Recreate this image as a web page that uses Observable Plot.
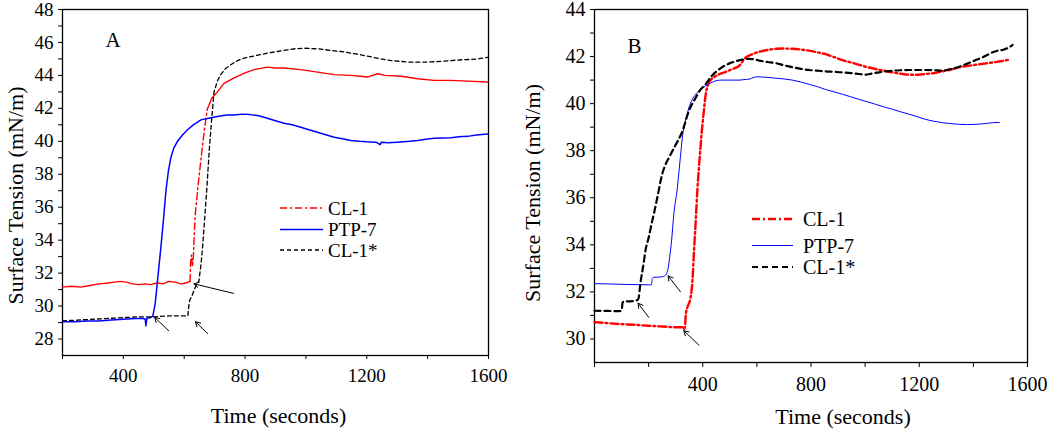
<!DOCTYPE html>
<html><head><meta charset="utf-8">
<script src="https://cdn.jsdelivr.net/npm/d3@7"></script>
<script src="https://cdn.jsdelivr.net/npm/@observablehq/plot@0.6"></script>
<style>
body{margin:0;background:#fff;}
#wrap{display:flex;width:1050px;height:430px;}
</style></head><body><div id="wrap"></div>
<script>
// ---------- Panel A data ----------
const timeA_CL1 = [200,230,260,290,320,350,370,390,410,430,450,470,490,510,530,550,570,590,605,619,621,624,627,630,633,636,646,658,667,676,690,709,730,764,800,830,873,900,928,983,1038,1093,1148,1180,1202,1235,1260,1314,1367,1421,1476,1531,1597];
const tensA_CL1 = [31.15,31.2,31.15,31.25,31.35,31.4,31.45,31.5,31.45,31.35,31.3,31.35,31.3,31.4,31.35,31.5,31.45,31.35,31.4,31.5,32.6,33.1,32.4,33.0,34.3,35.5,37.4,39.4,40.8,41.95,42.6,43.0,43.5,43.85,44.15,44.35,44.5,44.45,44.45,44.35,44.2,44.05,44.0,43.95,43.9,44.1,44.0,43.95,43.8,43.7,43.7,43.65,43.6];

const timeA_PTP7 = [200,240,280,320,360,400,440,465,472,474,477,490,497,505,512,518,524,532,540,548,556,566,578,595,611,630,655,680,709,740,764,790,818,845,873,900,928,955,983,1010,1038,1065,1093,1120,1148,1175,1200,1230,1244,1248,1270,1300,1340,1367,1394,1421,1448,1476,1503,1531,1560,1597];
const tensA_PTP7 = [29.05,29.05,29.1,29.1,29.15,29.2,29.25,29.25,29.2,28.8,29.25,29.3,29.4,30.2,31.5,32.6,33.7,35.3,37.0,38.2,39.0,39.6,40.0,40.4,40.7,41.0,41.3,41.4,41.5,41.6,41.6,41.65,41.62,41.55,41.4,41.25,41.1,41.0,40.85,40.7,40.55,40.4,40.25,40.15,40.05,40.0,39.97,39.95,39.8,39.95,39.92,39.95,40.0,40.05,40.12,40.18,40.2,40.22,40.27,40.3,40.38,40.45];

const timeA_CL1s = [200,250,300,350,400,450,500,550,590,612,615,618,625,632,640,648,655,660,668,675,682,690,698,710,720,735,753,775,797,835,874,905,939,965,994,1020,1049,1080,1115,1150,1181,1215,1247,1280,1312,1345,1378,1411,1444,1477,1510,1540,1563,1597];
const tensA_CL1s = [29.1,29.15,29.2,29.25,29.3,29.35,29.35,29.4,29.4,29.4,30.0,30.35,30.6,30.95,31.3,31.5,32.5,33.5,35.5,37.3,39.4,41.3,43.0,43.7,44.05,44.4,44.65,44.9,45.05,45.2,45.35,45.45,45.55,45.62,45.65,45.63,45.6,45.52,45.45,45.35,45.25,45.12,45.0,44.9,44.85,44.8,44.8,44.82,44.85,44.9,44.95,44.97,45.0,45.1];

// arrows in panel A (time, tension): tail -> tip
const arrowA_tailT = [549, 677, 762];
const arrowA_tailV = [28.5, 28.33, 30.77];
const arrowA_tipT  = [503, 637, 632];
const arrowA_tipV  = [29.31, 29.05, 31.35];

// ---------- Panel B data ----------
const timeB_CL1 = [0,50,100,150,200,250,300,325,330,334,338,345,355,362,368,374,380,386,392,398,405,411,420,429,445,460,485,509,534,558,583,608,640,670,700,731,762,793,824,854,885,916,947,978,1008,1039,1070,1101,1132,1163,1194,1224,1255,1286,1317,1348,1378,1409,1440,1471,1502,1533];
const tensB_CL1 = [30.72,30.67,30.63,30.6,30.56,30.53,30.5,30.5,30.42,30.5,31.1,31.4,31.75,32.5,33.8,35.0,36.3,37.3,38.2,39.0,39.8,40.4,40.8,41.0,41.15,41.25,41.35,41.47,41.6,41.95,42.1,42.2,42.28,42.33,42.34,42.33,42.3,42.25,42.18,42.1,41.98,41.85,41.75,41.65,41.55,41.47,41.4,41.33,41.27,41.23,41.23,41.26,41.3,41.37,41.45,41.54,41.6,41.65,41.7,41.75,41.8,41.87];

const timeB_PTP7 = [0,50,100,150,200,210,214,220,240,255,265,272,278,285,293,306,312,318,324,330,340,349,360,374,392,411,430,448,467,485,510,534,552,571,590,600,620,645,670,700,731,762,793,824,854,885,916,947,978,1008,1039,1070,1101,1132,1163,1194,1224,1255,1286,1317,1348,1378,1409,1440,1471,1496];
const tensB_PTP7 = [32.35,32.34,32.32,32.31,32.3,32.3,32.58,32.62,32.63,32.66,32.75,33.0,33.5,34.2,35.3,36.4,37.1,37.8,38.5,38.98,39.45,39.83,40.15,40.4,40.6,40.75,40.88,40.97,41.0,41.0,41.0,41.0,41.02,41.04,41.12,41.14,41.13,41.11,41.08,41.05,41.0,40.92,40.82,40.72,40.6,40.5,40.4,40.29,40.18,40.08,39.97,39.86,39.76,39.65,39.55,39.44,39.33,39.25,39.19,39.15,39.12,39.11,39.12,39.15,39.19,39.2];

const timeB_CL1s = [0,50,90,100,104,110,130,150,162,170,180,189,200,213,219,232,250,262,275,300,324,349,374,392,411,435,460,472,497,522,546,571,590,608,640,670,700,731,762,793,824,854,885,916,947,978,1002,1025,1052,1077,1101,1132,1163,1194,1224,1255,1286,1317,1348,1378,1409,1440,1471,1490,1508,1525,1545];
const tensB_CL1s = [31.2,31.19,31.18,31.2,31.55,31.6,31.6,31.62,31.7,32.4,33.1,33.8,34.3,35.0,35.3,36.0,37.0,37.4,37.7,38.25,38.8,39.7,40.25,40.6,40.83,41.2,41.45,41.55,41.7,41.8,41.87,41.9,41.88,41.83,41.77,41.72,41.63,41.55,41.48,41.43,41.4,41.37,41.35,41.33,41.3,41.26,41.23,41.28,41.33,41.37,41.4,41.42,41.43,41.43,41.43,41.42,41.4,41.47,41.57,41.7,41.85,42.0,42.18,42.25,42.28,42.35,42.5];

const arrowB_tailT = [318, 201, 386];
const arrowB_tailV = [32.0, 30.91, 29.74];
const arrowB_tipT  = [272, 161, 330];
const arrowB_tipV  = [32.68, 31.52, 30.35];

const seriesNames = ["CL-1", "PTP-7", "CL-1*"];
const xTickLabels = [400, 800, 1200, 1600];
const yLabel = "Surface Tension (mN/m)";
const xLabel = "Time (seconds)";

// ---------- helpers ----------
const pts = (ts, vs) => ts.map((t, i) => ({t, v: vs[i]}));
const arrows = (t1, v1, t2, v2) => t1.map((_, i) => ({x1: t1[i], y1: v1[i], x2: t2[i], y2: v2[i]}));
const FONT = "'Liberation Serif', 'Times New Roman', serif";

function axes(xDom, yDom, fs, xt, yt) {
  return [
    Plot.axisX({ticks: d3.range(xDom[0], xDom[1] + 1, 200), tickFormat: d => xTickLabels.includes(d) ? String(d) : "",
      tickSize: xt, tickPadding: 9, fontSize: fs, label: null}),
    Plot.axisY({ticks: d3.range(Math.ceil(yDom[0]) + 1, yDom[1] + 1, 1), tickFormat: d => d % 2 === 0 ? String(d) : "",
      tickSize: yt, tickPadding: 5, fontSize: fs, label: null}),
    Plot.frame({stroke: "black", strokeWidth: 1.3})
  ];
}

// ---------- Panel A ----------
const redA = pts(timeA_CL1, tensA_CL1);
const plotA = Plot.plot({
  width: 525, height: 430,
  marginLeft: 62, marginRight: 37, marginTop: 9, marginBottom: 75,
  x: {domain: [200, 1600]},
  y: {domain: [27, 48]},
  style: {fontFamily: FONT, color: "black", background: "white", overflow: "visible"},
  marks: [
    ...axes([200, 1600], [27, 48], 19, 4, 4),
    Plot.line(redA.filter(d => d.t <= 619), {x: "t", y: "v", stroke: "#ff0000", strokeWidth: 1.4}),
    Plot.line(redA.filter(d => d.t >= 619 && d.t <= 676), {x: "t", y: "v", stroke: "#ff0000", strokeWidth: 1.4, strokeDasharray: "7,3,2,3"}),
    Plot.line(redA.filter(d => d.t >= 676), {x: "t", y: "v", stroke: "#ff0000", strokeWidth: 1.4}),
    Plot.line(pts(timeA_PTP7, tensA_PTP7), {x: "t", y: "v", stroke: "#0000ff", strokeWidth: 1.5}),
    Plot.line(pts(timeA_CL1s, tensA_CL1s), {x: "t", y: "v", stroke: "black", strokeWidth: 1.3, strokeDasharray: "4,3"}),
    Plot.arrow(arrows(arrowA_tailT, arrowA_tailV, arrowA_tipT, arrowA_tipV), {x1: "x1", y1: "y1", x2: "x2", y2: "y2", stroke: "black", strokeWidth: 1, headLength: 8}),
    Plot.text(["A"], {frameAnchor: "top-left", dx: 43, dy: 31, fontSize: 21, textAnchor: "start", lineAnchor: "middle"}),
    Plot.text([xLabel], {frameAnchor: "bottom", dx: 3, dy: 60, fontSize: 22, textAnchor: "middle", lineAnchor: "middle"}),
    Plot.text([yLabel], {frameAnchor: "left", dx: -47, dy: 13, fontSize: 22, rotate: -90, textAnchor: "middle", lineAnchor: "middle"})
  ]
});

// ---------- Panel B ----------
const plotB = Plot.plot({
  width: 525, height: 430,
  marginLeft: 69, marginRight: 23, marginTop: 9, marginBottom: 68,
  x: {domain: [0, 1600]},
  y: {domain: [29, 44]},
  style: {fontFamily: FONT, color: "black", background: "white", overflow: "visible"},
  marks: [
    ...axes([0, 1600], [29, 44], 20, 5, 4),
    Plot.line(pts(timeB_CL1, tensB_CL1), {x: "t", y: "v", stroke: "#ff0000", strokeWidth: 2.4, strokeDasharray: "8,3,2,3", curve: "monotone-x"}),
    Plot.line(pts(timeB_PTP7, tensB_PTP7), {x: "t", y: "v", stroke: "#0000ff", strokeWidth: 1, curve: "monotone-x"}),
    Plot.line(pts(timeB_CL1s, tensB_CL1s), {x: "t", y: "v", stroke: "black", strokeWidth: 2.2, strokeDasharray: "6,4", curve: "monotone-x"}),
    Plot.arrow(arrows(arrowB_tailT, arrowB_tailV, arrowB_tipT, arrowB_tipV), {x1: "x1", y1: "y1", x2: "x2", y2: "y2", stroke: "black", strokeWidth: 1, headLength: 8}),
    Plot.text(["B"], {frameAnchor: "top-left", dx: 33, dy: 37, fontSize: 21, textAnchor: "start", lineAnchor: "middle"}),
    Plot.text([xLabel], {frameAnchor: "bottom", dx: 32, dy: 54, fontSize: 22, textAnchor: "middle", lineAnchor: "middle"}),
    Plot.text([yLabel], {frameAnchor: "left", dx: -62, dy: 7, fontSize: 22, rotate: -90, textAnchor: "middle", lineAnchor: "middle"})
  ]
});

// ---------- legends ----------
function legend(svg, x0, x1, tx, ys, fs, styles) {
  const g = d3.select(svg).append("g").attr("font-family", FONT).attr("font-size", fs).attr("text-anchor", "start");
  seriesNames.forEach((name, i) => {
    const s = styles[i];
    g.append("line").attr("x1", x0).attr("x2", x1).attr("y1", ys[i]).attr("y2", ys[i])
      .attr("stroke", s.c).attr("stroke-width", s.w).attr("stroke-dasharray", s.d || null);
    g.append("text").attr("x", tx).attr("y", ys[i]).attr("dy", "0.35em").attr("text-anchor", "start").attr("fill", "black").text(name);
  });
}
legend(plotA, 280, 323, 328, [208, 229.5, 250], 19, [
  {c: "#ff0000", w: 1.3, d: "7,3,2,3"}, {c: "#0000ff", w: 1.5}, {c: "black", w: 1.3, d: "4,3"}]);
legend(plotB, 227, 268, 278, [219, 245.5, 267], 20, [
  {c: "#ff0000", w: 2.4, d: "8,3,2,3"}, {c: "#0000ff", w: 1}, {c: "black", w: 2.2, d: "6,4"}]);

document.getElementById("wrap").append(plotA, plotB);
</script></body></html>
